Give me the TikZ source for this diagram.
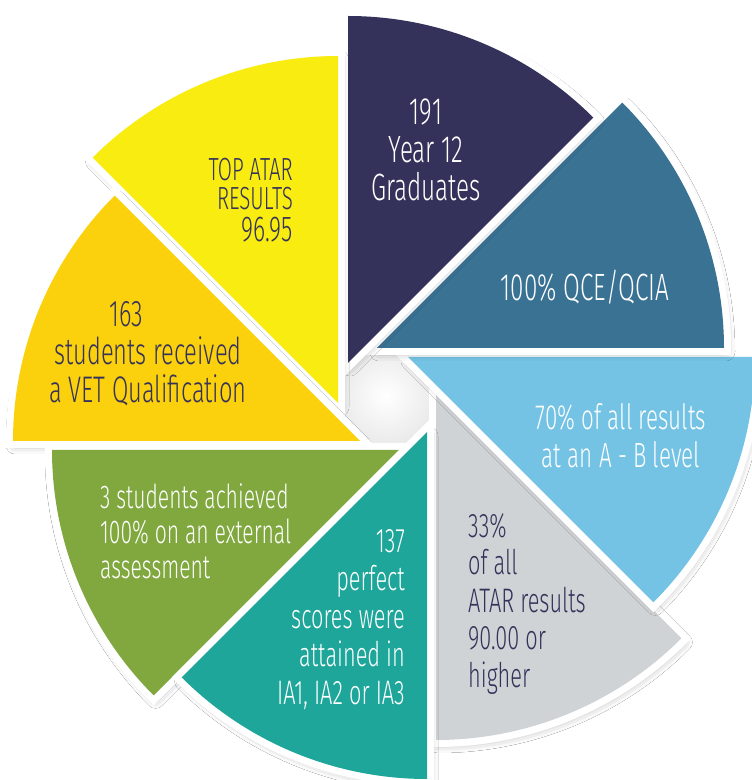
\documentclass[tikz,border=0pt]{standalone}
\usepackage{fontspec}
\newfontfamily\cond{Fira Sans Light}[FakeStretch=0.64]
\usetikzlibrary{shadows.blur}
\definecolor{cnavy}{HTML}{34325A}
\definecolor{cqce}{HTML}{3A7294}
\definecolor{clblue}{HTML}{74C3E4}
\definecolor{cgray}{HTML}{D0D3D5}
\definecolor{cteal}{HTML}{1DA699}
\definecolor{cgreen}{HTML}{80A83F}
\definecolor{cyorange}{HTML}{FBD00C}
\definecolor{cyellow}{HTML}{F8EC10}
\definecolor{ctext}{HTML}{34325A}
\newcommand\pinseg[4]{%
  \path[segback] #1 -- ++(#2:347) arc[start angle=#2, end angle=#3, radius=347] -- cycle;
  \fill[#4] #1 -- ++(#2:347) arc[start angle=#2, end angle=#3, radius=347] -- cycle;}
\begin{document}
\begin{tikzpicture}[x=1pt,y=1pt,
  segback/.style={fill=white, draw=white, line width=14pt, line join=miter,
    blur shadow={shadow xshift=2pt, shadow yshift=-4pt, shadow blur radius=9pt, shadow opacity=35}},
  lbl/.style={font=\cond, inner sep=0pt}]
\useasboundingbox (0,0) rectangle (752,780);
\fill[white] (0,0) rectangle (752,780);
\shade[inner color=white, outer color=black!22] (386,384) circle (130);
% segments, bottom to top
\pinseg{(436,387)}{-90}{-45}{cgray}
\pinseg{(408,423)}{-45}{0}{clblue}
\pinseg{(377,432)}{0}{45}{cqce}
\pinseg{(348,417)}{45}{90}{cnavy}
\pinseg{(338,377)}{90}{135}{cyellow}
\pinseg{(360,339)}{135}{180}{cyorange}
\pinseg{(399,330)}{180}{225}{cgreen}
\pinseg{(427,348)}{225}{270}{cteal}
% labels
\node[lbl, text=white, align=center, font=\cond\fontsize{38}{38}\selectfont] (tgrad) at (426,630) {191\\Year 12\\Graduates};
\node[lbl, text=white, font=\cond\fontsize{38}{38}\selectfont] (tqce) at (585,493) {100\% QCE/QCIA};
\node[lbl, text=white, align=center, font=\cond\fontsize{35}{38}\selectfont] (tab) at (621,344) {70\% of all results\\at an A - B level};
\node[lbl, text=ctext, align=left, anchor=west, font=\cond\fontsize{34}{37.5}\selectfont] (tatar) at (468,176) {33\%\\of all\\ATAR results\\90.00 or\\higher};
\node[lbl, text=white, align=right, anchor=east, font=\cond\fontsize{34}{38}\selectfont] (tperf) at (405,160) {137\\perfect\\scores were\\attained in\\IA1, IA2 or IA3};
\node[lbl, text=white, align=left, anchor=west, font=\cond\fontsize{33}{35}\selectfont] (text3) at (100,249) {3 students achieved\\100\% on an external\\assessment};
\node[lbl, text=ctext, align=center, font=\cond\fontsize{37}{38}\selectfont] (tvet) at (148,426) {163\hspace*{44pt}\\students received\\a VET Qualification};
\node[lbl, text=ctext, align=right, anchor=east, font=\cond\fontsize{32}{29.5}\selectfont] (ttop) at (293,580) {TOP ATAR\\RESULTS\hspace*{4pt}\\[2pt]{\fontsize{36}{34}\selectfont 96.95}};
\end{tikzpicture}
\end{document}
